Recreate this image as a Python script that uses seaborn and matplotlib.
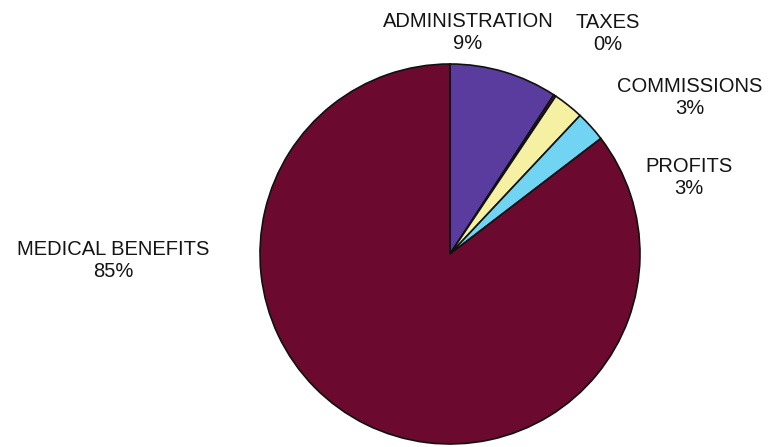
import matplotlib
matplotlib.use("Agg")
import matplotlib.pyplot as plt
import seaborn as sns

# Share of each premium dollar, in percent
categories = ["ADMINISTRATION", "TAXES", "COMMISSIONS", "PROFITS", "MEDICAL BENEFITS"]
shares = [9.2, 0.2, 2.6, 2.6, 85.4]

sns.set_theme(style="white")
plt.rcParams["font.family"] = ["Liberation Sans", "DejaVu Sans"]

colors = ["#5a3c9e", "#6b1030", "#f6f1a2", "#70d4f2", "#6b0a2e"]
# label anchor points, in pie-radius units
label_pos = [(0.095, 1.165), (0.832, 1.158), (1.263, 0.826), (1.258, 0.405), (-1.774, -0.032)]

fig = plt.figure(figsize=(7.7, 4.47), dpi=100)
ax = fig.add_axes([0, 0, 1, 1])

wedges, _ = ax.pie(
    shares,
    startangle=90,
    counterclock=False,
    colors=colors,
    radius=1.0,
    wedgeprops=dict(edgecolor="#111111", linewidth=1.2),
)

total = sum(shares)
for name, val, (x, y) in zip(categories, shares, label_pos):
    ax.text(x, y, f"{name}\n{round(val / total * 100):.0f}%",
            ha="center", va="center", fontsize=14.5,
            color="#141414", linespacing=1.2)

ax.set_xlim(-450 / 190, 320 / 190)
ax.set_ylim(-193 / 190, 254 / 190)
ax.set_aspect("equal")
ax.axis("off")

fig.savefig("out.png", dpi=100, facecolor="white")
